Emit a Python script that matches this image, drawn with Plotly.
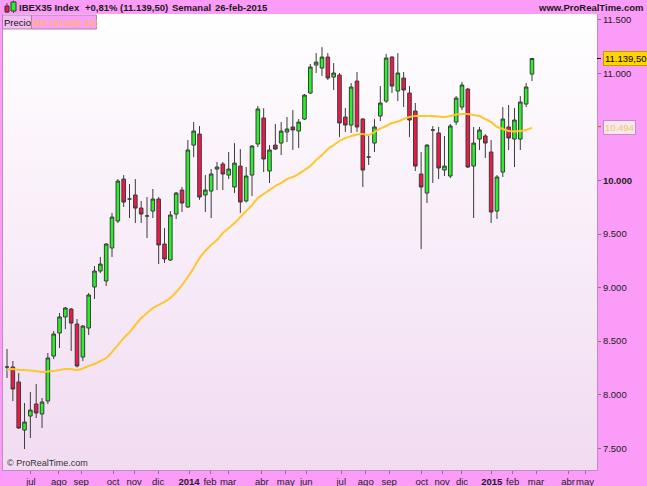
import base64
import pandas as pd
import plotly.graph_objects as go

# ---------------- data (weekly IBEX35) ----------------
weeks = pd.date_range("2013-06-03", periods=91, freq="W-MON").strftime("%d-%m-%Y").tolist()

opens = [8259, 8259, 8119, 7670, 7801, 7913, 7820, 7941, 8361, 8576,
         8726, 8800, 8660, 8352, 8623, 9006, 9155, 9062, 9370, 9622,
         10014, 9827, 9865, 9743, 9669, 9715, 9827, 9407, 9258, 9687,
         9911, 9753, 10331, 10434, 9865, 9902, 10107, 10154, 10051, 9939,
         10135, 9809, 10051, 10341, 10584, 10089, 10331, 10350, 10453, 10500,
         10462, 10574, 10817, 11078, 11050, 11153, 10966, 10985, 10593, 10518,
         10929, 10574, 10219, 10350, 10602, 10742, 11153, 10836, 10957, 10817,
         10649, 10061, 9883, 10472, 10444, 10098, 10042, 10546, 10686, 10854,
         10135, 10387, 10416, 10266, 9715, 10079, 10500, 10387, 10387, 10714,
         10994]
highs = [8427, 8315, 8203, 7922, 8025, 8100, 7969, 8389, 8595, 8763,
         8819, 8810, 8707, 8651, 8950, 9202, 9286, 9416, 9697, 10014,
         10051, 9967, 10014, 9809, 9846, 9921, 9846, 9556, 9715, 9893,
         9939, 10378, 10546, 10509, 10051, 10107, 10173, 10173, 10266, 10350,
         10294, 10126, 10331, 10696, 10675, 10331, 10528, 10546, 10593, 10658,
         10574, 10808, 11088, 11190, 11246, 11190, 11097, 11004, 10677, 10910,
         11013, 10584, 10416, 10574, 10882, 11181, 11160, 11190, 11013, 10882,
         10724, 10266, 10340, 10509, 10500, 10416, 10528, 10789, 10920, 10864,
         10500, 10500, 10434, 10378, 10051, 10686, 10705, 10677, 10789, 10910,
         11144]
lows = [8156, 7941, 7680, 7493, 7596, 7782, 7689, 7913, 8333, 8436,
        8613, 8408, 8255, 8315, 8557, 8894, 9136, 9015, 9286, 9603,
        9753, 9650, 9603, 9603, 9463, 9650, 9220, 9230, 9248, 9641,
        9706, 9745, 10219, 9820, 9706, 9650, 9911, 9911, 10014, 9883,
        9697, 9795, 9855, 10313, 10079, 9977, 10285, 10238, 10359, 10285,
        10303, 10565, 10808, 11004, 10976, 10938, 10845, 10406, 10453, 10444,
        10453, 9939, 10145, 10266, 10556, 10724, 10817, 10742, 10686, 10406,
        10089, 9360, 9790, 9977, 10014, 10042, 10023, 10518, 10658, 10117,
        9650, 10285, 10210, 9603, 9641, 10033, 10285, 10126, 10285, 10686,
        10929]
closes = [8259, 8053, 7689, 7745, 7857, 7829, 7932, 8343, 8567, 8726,
          8810, 8669, 8268, 8641, 8931, 9155, 9220, 9407, 9659, 9995,
          9799, 9827, 9743, 9687, 9669, 9827, 9398, 9267, 9678, 9883,
          9790, 10285, 10462, 9846, 9911, 10061, 10126, 10061, 10107, 10163,
          9799, 10042, 10322, 10668, 10201, 10285, 10294, 10462, 10481, 10472,
          10546, 10798, 11060, 11106, 11153, 10957, 11004, 10537, 10518, 10873,
          10500, 10098, 10219, 10500, 10724, 11144, 10882, 11004, 10845, 10565,
          10135, 9939, 10331, 10472, 10117, 10135, 10509, 10770, 10892, 10126,
          10350, 10472, 10350, 9706, 10033, 10574, 10397, 10565, 10733, 10873,
          11139.5]
ma30 = [8231, 8240, 8231, 8231, 8226, 8221, 8212, 8217, 8221, 8231,
        8240, 8240, 8231, 8245, 8268, 8287, 8315, 8343, 8399, 8464,
        8529, 8585, 8651, 8716, 8763, 8810, 8838, 8866, 8903, 8959,
        9024, 9099, 9183, 9276, 9342, 9398, 9444, 9510, 9556, 9603,
        9659, 9715, 9771, 9837, 9874, 9911, 9949, 9977, 10014, 10033,
        10061, 10098, 10135, 10191, 10238, 10294, 10331, 10369, 10397, 10415,
        10430, 10434, 10425, 10453, 10486, 10509, 10537, 10551, 10574, 10593,
        10602, 10602, 10602, 10602, 10598, 10593, 10602, 10616, 10621, 10621,
        10612, 10602, 10574, 10546, 10500, 10481, 10462, 10458, 10462, 10472,
        10494]

month_labels = ["jul", "ago", "sep", "oct", "nov", "dic", "<b>2014</b>", "feb", "mar", "abr",
                "may", "jun", "jul", "ago", "sep", "oct", "nov", "dic", "<b>2015</b>", "feb",
                "mar", "abr", "may"]
month_pos = [4.1, 8.9, 12.7, 18.2, 21.8, 25.9, 31.2, 34.8, 37.9, 43.7,
             47.8, 51.3, 57.3, 61.5, 65.5, 71.1, 74.6, 78.0, 83.1, 86.7,
             90.7, 96.2, 99.1]

price_ticks = [7500, 8000, 8500, 9000, 9500, 10000, 10500, 11000, 11500]
price_text = ["7.500", "8.000", "8.500", "9.000", "9.500", "<b>10.000</b>", "", "11.000", "11.500"]

last_close_label = "11.139,50"
ma_last_label = "10.494"

# ---------------- layout constants ----------------
W, H = 647, 486
L, R, T, B = 3, 597, 14, 470
PINK = "#FA9CF8"
FONT = "Liberation Sans, Arial, sans-serif"
GREEN = "#27F227"
RED = "#F01848"

def px(x):
    return (x - L) / (R - L)

def py(y):
    return (B - y) / (B - T)

xidx = list(range(len(weeks)))

fig = go.Figure()
fig.add_trace(go.Candlestick(
    x=xidx, open=opens, high=highs, low=lows, close=closes,
    increasing=dict(fillcolor=GREEN, line=dict(color="#3c3c3c", width=1)),
    decreasing=dict(fillcolor=RED, line=dict(color="#3c3c3c", width=1)),
    whiskerwidth=0, hoverinfo="skip", showlegend=False,
))
fig.add_trace(go.Scatter(
    x=xidx, y=ma30, mode="lines", line=dict(color="#FFC62E", width=2, shape="spline", smoothing=0.6),
    hoverinfo="skip", showlegend=False,
))

svg = ("<svg xmlns='http://www.w3.org/2000/svg' width='10' height='100' viewBox='0 0 10 100' "
       "preserveAspectRatio='none'><defs><linearGradient id='g' x1='0' y1='0' x2='0' y2='1'>"
       "<stop offset='0' stop-color='#ffffff'/><stop offset='1' stop-color='#F1DBF1'/>"
       "</linearGradient></defs><rect width='10' height='100' fill='url(#g)'/></svg>")
src = "data:image/svg+xml;base64," + base64.b64encode(svg.encode()).decode()

shapes = []
# header candle icon
shapes += [
    dict(type="line", xref="paper", yref="paper", x0=px(7), x1=px(7), y0=py(3), y1=py(13), line=dict(color="#555", width=1)),
    dict(type="rect", xref="paper", yref="paper", x0=px(5), x1=px(9), y0=py(6), y1=py(12), fillcolor=RED, line=dict(color="#333", width=1)),
    dict(type="line", xref="paper", yref="paper", x0=px(13.5), x1=px(13.5), y0=py(0.5), y1=py(13), line=dict(color="#555", width=1)),
    dict(type="rect", xref="paper", yref="paper", x0=px(11), x1=px(16), y0=py(2), y1=py(11), fillcolor=GREEN, line=dict(color="#333", width=1)),
]
# legend boxes
shapes += [
    dict(type="rect", xref="paper", yref="paper", x0=px(2.5), x1=px(31.5), y0=py(15), y1=py(29), fillcolor="#F4BDF2", line=dict(color="#B77DB5", width=1)),
    dict(type="rect", xref="paper", yref="paper", x0=px(31.5), x1=px(96.5), y0=py(15), y1=py(29), fillcolor=PINK, line=dict(color="#B77DB5", width=1)),
]
# tag ticks on right axis
shapes += [
    dict(type="line", xref="paper", yref="y", x0=1, x1=px(601), y0=float(closes[-1]), y1=float(closes[-1]), line=dict(color="#000", width=1)),
    dict(type="line", xref="paper", yref="y", x0=1, x1=px(601), y0=ma30[-1], y1=ma30[-1], line=dict(color="#FFB000", width=1)),
]

annotations = [
    dict(text="<b>IBEX35 Index</b>", x=px(17), y=py(7), xref="paper", yref="paper", xanchor="left", yanchor="middle", showarrow=False, font=dict(family=FONT, size=9.5, color="#1a1a1a")),
    dict(text="<b>+0,81% (11.139,50)</b>", x=px(83), y=py(7), xref="paper", yref="paper", xanchor="left", yanchor="middle", showarrow=False, font=dict(family=FONT, size=9.5, color="#1a1a1a")),
    dict(text="<b>Semanal</b>", x=px(170), y=py(7), xref="paper", yref="paper", xanchor="left", yanchor="middle", showarrow=False, font=dict(family=FONT, size=9.5, color="#1a1a1a")),
    dict(text="<b>26-feb-2015</b>", x=px(213), y=py(7), xref="paper", yref="paper", xanchor="left", yanchor="middle", showarrow=False, font=dict(family=FONT, size=9.5, color="#1a1a1a")),
    dict(text="<b>www.ProRealTime.com</b>", x=px(646), y=py(7), xref="paper", yref="paper", xanchor="right", yanchor="middle", showarrow=False, font=dict(family=FONT, size=9.5, color="#1a1a1a")),
    dict(text="Precio", x=px(17), y=py(22), xref="paper", yref="paper", xanchor="center", yanchor="middle", showarrow=False, font=dict(family=FONT, size=9.5, color="#111")),
    dict(text="MM (Simple 30)", x=px(64), y=py(22), xref="paper", yref="paper", xanchor="center", yanchor="middle", showarrow=False, font=dict(family=FONT, size=9.5, color="#FFC040")),
    dict(text="© ProRealTime.com", x=px(5), y=py(463), xref="paper", yref="paper", xanchor="left", yanchor="middle", showarrow=False, font=dict(family=FONT, size=9, color="#333")),
    dict(text=last_close_label, x=px(603), y=float(closes[-1]), xref="paper", yref="y", xanchor="left", yanchor="middle", showarrow=False,
         bgcolor="#FFD400", bordercolor="#B8A000", borderwidth=1, borderpad=1, font=dict(family=FONT, size=9.5, color="#000")),
    dict(text=ma_last_label, x=px(603), y=ma30[-1], xref="paper", yref="y", xanchor="left", yanchor="middle", showarrow=False,
         bgcolor="#F4E8F4", bordercolor="#C58CC3", borderwidth=1, borderpad=1, font=dict(family=FONT, size=9.5, color="#FFC552")),
]

fig.update_layout(
    width=W, height=H,
    margin=dict(l=L, r=W - R, t=T, b=H - B, pad=0, autoexpand=False),
    paper_bgcolor=PINK, plot_bgcolor="#FFFFFF",
    boxgap=0.12,
    images=[dict(source=src, xref="paper", yref="paper", x=0, y=1, sizex=1, sizey=1,
                 xanchor="left", yanchor="top", sizing="stretch", layer="below")],
    shapes=shapes, annotations=annotations,
    showlegend=False,
    xaxis=dict(range=[-0.69, 101.15], rangeslider=dict(visible=False), showgrid=False, zeroline=False,
               tickmode="array", tickvals=month_pos, ticktext=month_labels, tickangle=0,
               automargin=False,
               ticks="outside", ticklen=3, tickcolor="#9a6a98",
               tickfont=dict(family=FONT, size=9.5, color="#222"),
               showline=True, linecolor="#C48AC2", linewidth=1, fixedrange=True),
    yaxis=dict(range=[7297, 11555], side="right", showgrid=False, zeroline=False,
               tickmode="array", tickvals=price_ticks, ticktext=price_text,
               automargin=False,
               ticks="outside", ticklen=3, tickcolor="#9a6a98",
               tickfont=dict(family=FONT, size=9.5, color="#222"),
               showline=True, mirror=True, linecolor="#C48AC2", linewidth=1, fixedrange=True),
)

fig.write_html("out.html", config={"displayModeBar": False},
               post_script="document.body.style.margin='0';document.body.style.padding='0';document.body.style.overflow='hidden';")
